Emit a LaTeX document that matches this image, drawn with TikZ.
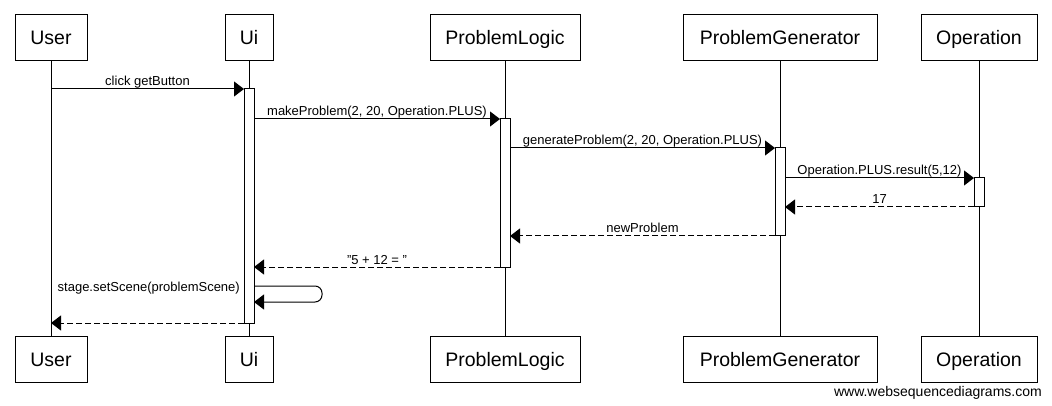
\documentclass[tikz,border=0pt]{standalone}
\usepackage{fontspec}
\setmainfont{Liberation Sans}
\usetikzlibrary{arrows.meta}
\begin{document}
\begin{tikzpicture}[x=1pt,y=-1pt,
  actor/.style={draw, line width=1pt, fill=white, minimum height=46pt, inner sep=0pt,
    font=\fontsize{19.5}{21}\selectfont, text height=14pt, text depth=0pt},
  actbar/.style={draw, fill=white, line width=1pt, inner sep=0pt, outer sep=0pt, minimum width=10pt, anchor=north},
  msg/.style={line width=1pt, -{Triangle[length=10pt,width=15pt]}},
  ret/.style={msg, dash pattern=on 6pt off 3pt},
  lbl/.style={font=\fontsize{13}{15}\selectfont, anchor=base, inner sep=0pt},
  life/.style={line width=1pt}]
\useasboundingbox (0,0) rectangle (1052,406);
% actors top
\node[actor, minimum width=72pt]  (uT) at (51,38) {User};
\node[actor, minimum width=48pt]  (iT) at (249,38) {Ui};
\node[actor, minimum width=150pt] (lT) at (505,38) {ProblemLogic};
\node[actor, minimum width=194pt] (gT) at (780,38) {ProblemGenerator};
\node[actor, minimum width=116pt] (oT) at (979,38) {Operation};
% actors bottom
\node[actor, minimum width=72pt]  (uB) at (51,359.5) {User};
\node[actor, minimum width=48pt]  (iB) at (249,359.5) {Ui};
\node[actor, minimum width=150pt] (lB) at (505,359.5) {ProblemLogic};
\node[actor, minimum width=194pt] (gB) at (780,359.5) {ProblemGenerator};
\node[actor, minimum width=116pt] (oB) at (979,359.5) {Operation};
% lifelines
\draw[life] (uT) -- (uB);
\draw[life] (iT) -- (iB);
\draw[life] (lT) -- (lB);
\draw[life] (gT) -- (gB);
\draw[life] (oT) -- (oB);
% activation bars
\node[actbar, minimum height=234pt] (aI) at (249,89) {};
\node[actbar, minimum height=148pt] (aL) at (505,119) {};
\node[actbar, minimum height=88pt]  (aG) at (780,148) {};
\node[actbar, minimum height=29pt]  (aO) at (979,178) {};
% messages
\draw[msg] (uT |- 0,89) -- node[lbl, yshift=3pt] {click getButton} (aI.north west);
\draw[msg] (aI.east |- 0,119) -- node[lbl, yshift=3pt] {makeProblem(2, 20, Operation.PLUS)} (aL.north west);
\draw[msg] (aL.east |- 0,148) -- node[lbl, yshift=3pt] {generateProblem(2, 20, Operation.PLUS)} (aG.north west);
\draw[msg] (aG.east |- 0,178) -- node[lbl, yshift=3pt] {Operation.PLUS.result(5,12)} (aO.north west);
\draw[ret] (aO.south west) -- node[lbl, yshift=3pt] {17} (aG.east |- aO.south);
\draw[ret] (aG.south west) -- node[lbl, yshift=3pt] {newProblem} (aL.east |- aG.south);
\draw[ret] (aL.south west) -- node[lbl, yshift=3pt] {\symbol{34}5 + 12 = \symbol{34}} (aI.east |- aL.south);
\coordinate (selfA) at (aI.east |- 0,286);
\coordinate (selfB) at (aI.east |- 0,302);
\draw[msg, rounded corners=7pt] (selfA) -- (322,286) -- (322,302) -- (selfB);
\node[lbl, anchor=base east] (selfL) at (240,291) {stage.setScene(problemScene)};
\draw[ret] (aI.south west) -- (uB |- aI.south);
% footer
\node[font=\fontsize{14}{16}\selectfont, anchor=base east, inner sep=0pt] (foot) at (1042,396) {www.websequencediagrams.com};
\end{tikzpicture}
\end{document}
